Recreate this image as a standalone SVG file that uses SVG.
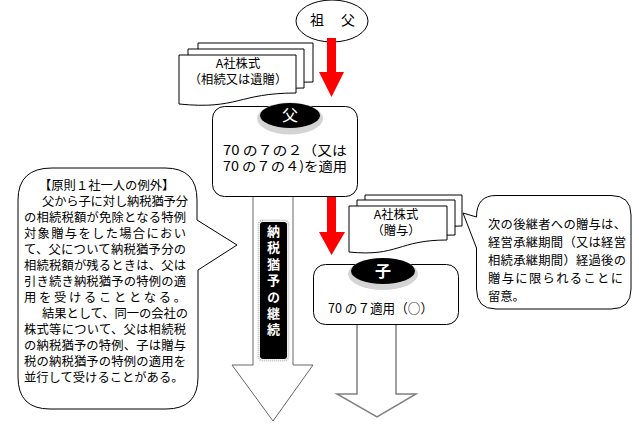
<svg xmlns="http://www.w3.org/2000/svg" width="639" height="445" viewBox="0 0 639 445">
<style>
text{font-family:"Noto Sans CJK JP","Noto Sans CJK SC",sans-serif;fill:#000}
.t{font-size:12.3px}
.w{fill:#fff}
.ln{fill:#fff;stroke:#000;stroke-width:1}
.sheet{fill:#fff;stroke:#000;stroke-width:1}
.red{fill:#ff0000}
.halo{fill:#d4d4d4}
.blk{fill:#000}
</style>
<rect width="639" height="445" fill="#fff"/>

<g id="sofu">
<ellipse cx="332" cy="21" rx="36" ry="21" class="ln"/>
<text x="310" y="25" font-size="14">祖</text>
<text x="341" y="25" font-size="14">父</text>
</g>

<g id="stock1">
<path class="sheet" d="M198,43 H313 V82 C255,82 255,98 198,92 Z"/>
<path class="sheet" d="M188,49 H304 V88 C246,88 246,104 188,98 Z"/>
<path class="sheet" d="M179,55 H296 V93 C238,93 238,110 179,104 Z"/>
<text x="238" y="68" text-anchor="middle" class="t">A社株式</text>
<text x="238" y="84" text-anchor="middle" class="t">（相続又は遺贈）</text>
</g>

<g id="stock2">
<path class="sheet" d="M365,195 H462 V226 C413,226 413,241 365,237 Z"/>
<path class="sheet" d="M357,200 H455 V235 C406,235 406,251 357,246 Z"/>
<path class="sheet" d="M349,206 H447 V240 C398,240 398,257 349,252 Z"/>
<text x="396" y="219" text-anchor="middle" class="t">A社株式</text>
<text x="396" y="235" text-anchor="middle" class="t">（贈与）</text>
</g>

<g id="connectors">
<path class="red" d="M327,38 H336 V72 H344 L331.5,97 L319,72 H327 Z"/>
<path class="red" d="M327,197 H336 V232 H345 L331.5,255 L319,232 H327 Z"/>
<path d="M253,197 V365 H232 L273,421 L313,365 H293 V197" fill="#fff" stroke="#666" stroke-width="1"/>
<path d="M357,325 V394 H337 L377,417 L416,394 H396 V325" fill="#fff" stroke="#808080" stroke-width="1.5"/>
</g>

<g id="keizoku">
<rect x="258.5" y="220.5" width="30" height="140" rx="4" fill="#fff" stroke="#bbb" stroke-width="2" stroke-dasharray="1 1"/>
<rect x="260" y="222" width="27" height="137" rx="3" class="blk"/>
<text x="273.5" y="224.5" writing-mode="vertical-rl" font-size="13" font-weight="bold" letter-spacing="3.4" class="w">納税猶予の継続</text>
</g>

<g id="chichi">
<rect x="212.5" y="106.5" width="145" height="90" rx="12" class="ln"/>
<ellipse cx="290" cy="118.5" rx="33" ry="16" class="halo"/>
<ellipse cx="290" cy="115.5" rx="30" ry="12.5" class="blk"/>
<text x="290" y="121" text-anchor="middle" font-size="16" class="w">父</text>
<text x="223" y="155" font-size="13" textLength="124" lengthAdjust="spacingAndGlyphs">70 の７の２（又は</text>
<text x="223" y="171" font-size="13" textLength="124" lengthAdjust="spacingAndGlyphs">70 の７の４)を適用</text>
</g>

<g id="ko">
<rect x="313.5" y="264.5" width="145" height="60" rx="12" class="ln"/>
<ellipse cx="383" cy="274" rx="35" ry="16" class="halo"/>
<ellipse cx="383" cy="271" rx="32" ry="13" class="blk"/>
<text x="383" y="277" text-anchor="middle" font-size="16" font-weight="bold" class="w">子</text>
<text x="328" y="313" font-size="13" textLength="105" lengthAdjust="spacingAndGlyphs">70 の７適用（○）</text>
</g>

<g id="note-left">
<path class="ln" d="M52,168 H165 Q197,168 197,200 V220 L237,245 L198,270 V377 Q198,409 166,409 H50 Q18,409 18,377 V200 Q18,168 52,168 Z"/>
<g class="t">
<text x="39" y="190">【原則１社一人の例外】</text>
<text x="42" y="206" textLength="146" lengthAdjust="spacing">父から子に対し納税猶予分</text>
<text x="24" y="222" textLength="162" lengthAdjust="spacing">の相続税額が免除となる特例</text>
<text x="24" y="238" textLength="162" lengthAdjust="spacing">対象贈与をした場合におい</text>
<text x="24" y="254" textLength="162" lengthAdjust="spacing">て、父について納税猶予分の</text>
<text x="24" y="270" textLength="162" lengthAdjust="spacing">相続税額が残るときは、父は</text>
<text x="24" y="286" textLength="162" lengthAdjust="spacing">引き続き納税猶予の特例の適</text>
<text x="24" y="302" textLength="162" lengthAdjust="spacing">用を受けることとなる。</text>
<text x="42" y="318" textLength="146" lengthAdjust="spacing">結果として、同一の会社の</text>
<text x="24" y="334" textLength="162" lengthAdjust="spacing">株式等について、父は相続税</text>
<text x="24" y="350" textLength="162" lengthAdjust="spacing">の納税猶予の特例、子は贈与</text>
<text x="24" y="366" textLength="162" lengthAdjust="spacing">税の納税猶予の特例の適用を</text>
<text x="24" y="382">並行して受けることがある。</text>
</g>
</g>

<g id="note-right">
<path class="ln" d="M496,195.5 H611 Q631,195.5 631,215 V289 Q631,309 611,309 H496 Q476.5,309 476.5,289 V248 L463,213 L476.5,217 Q476.5,195.5 496,195.5 Z"/>
<g class="t">
<text x="488" y="229" textLength="138" lengthAdjust="spacing">次の後継者への贈与は、</text>
<text x="488" y="247" textLength="138" lengthAdjust="spacing">経営承継期間（又は経営</text>
<text x="488" y="265" textLength="138" lengthAdjust="spacing">相続承継期間）経過後の</text>
<text x="488" y="283" textLength="135" lengthAdjust="spacing">贈与に限られることに</text>
<text x="488" y="301">留意。</text>
</g>
</g>
</svg>
